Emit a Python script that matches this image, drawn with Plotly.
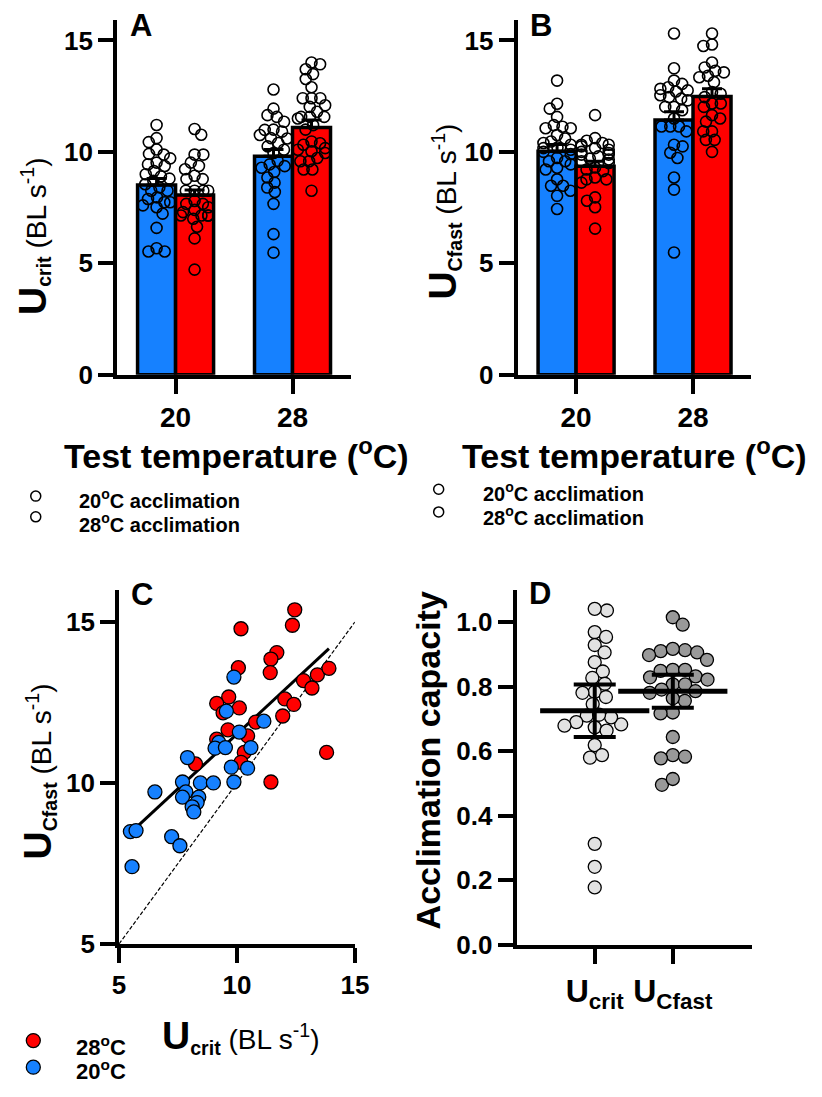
import numpy as np
import plotly.graph_objects as go

W, H = 822, 1097
FONT = "Liberation Sans, Arial, sans-serif"

# ---------------- data ----------------
test_temperature_labels = ["20", "28"]

# Panel A : Ucrit (BL s-1)
ucrit_acc20_test20 = [11.21, 10.62, 10.44, 10.11, 9.91, 9.88, 9.71, 9.52, 9.44, 9.37, 9.14, 9.0, 8.9, 8.8, 8.7,
                      8.55, 8.41, 8.26, 8.26, 7.96, 7.89, 7.74, 7.74, 7.6, 7.52, 7.23, 6.59, 5.68, 5.53, 5.53]
ucrit_acc28_test20 = [11.03, 10.77, 9.88, 9.88, 9.52, 9.37, 9.22, 8.93, 8.78, 8.78, 8.26, 8.26, 8.26, 8.26, 7.8,
                      7.67, 7.67, 7.52, 7.4, 7.3, 7.15, 7.15, 7.15, 7.15, 7.0, 6.64, 6.12, 4.72]
ucrit_acc20_test28 = [12.8, 11.94, 11.65, 11.57, 11.35, 11.0, 10.99, 10.91, 10.76, 10.62, 10.6, 10.4, 10.25, 10.1,
                      9.95, 9.6, 9.44, 9.36, 9.29, 9.1, 8.85, 8.62, 8.4, 8.2, 7.67, 6.31, 5.48]
ucrit_acc28_test28 = [14.01, 13.93, 13.71, 13.49, 13.27, 12.9, 12.41, 12.41, 12.41, 12.09, 12.02, 11.8, 11.57, 11.57,
                      11.57, 11.5, 11.2, 11.0, 10.47, 10.39, 10.32, 10.17, 10.1, 10.03, 9.95, 9.73, 9.58, 9.58,
                      9.21, 9.21, 8.26]
ucrit_mean_acc20 = [8.51, 9.81]
ucrit_mean_acc28 = [8.07, 11.09]
ucrit_sem_acc20 = [0.30, 0.30]
ucrit_sem_acc28 = [0.22, 0.34]

# Panel B : UCfast (BL s-1)
ucfast_acc20_test20 = [13.2, 12.16, 11.94, 11.57, 11.2, 11.13, 11.06, 11.06, 10.76, 10.6, 10.47, 10.4, 10.32, 10.2,
                       10.17, 10.1, 10.0, 9.9, 9.73, 9.58, 9.58, 9.44, 9.29, 9.21, 8.77, 8.48, 8.48, 8.26, 8.03, 7.44]
ucfast_acc28_test20 = [11.65, 10.62, 10.5, 10.4, 10.32, 10.32, 10.25, 10.17, 10.1, 10.0, 9.95, 9.88, 9.88, 9.8, 9.7,
                       9.66, 9.58, 9.5, 9.3, 9.21, 9.14, 8.85, 8.77, 8.77, 8.62, 7.96, 7.81, 7.52, 6.56]
ucfast_acc20_test28 = [15.31, 13.75, 13.2, 13.05, 12.9, 12.83, 12.76, 12.71, 12.54, 12.46, 12.39, 12.31, 12.02, 12.02,
                       11.87, 11.5, 11.14, 11.14, 11.14, 10.92, 10.32, 10.25, 9.96, 9.73, 8.85, 8.31, 5.49]
ucfast_acc28_test28 = [15.31, 14.82, 14.75, 14.01, 13.79, 13.64, 13.57, 13.42, 13.35, 13.13, 12.68, 12.61, 12.46,
                       12.17, 12.17, 12.02, 11.65, 11.5, 11.36, 10.92, 10.92, 10.54, 10.54, 10.0]
ucfast_mean_acc20 = [10.03, 11.43]
ucfast_mean_acc28 = [9.36, 12.49]
ucfast_sem_acc20 = [0.30, 0.37]
ucfast_sem_acc28 = [0.22, 0.34]

# Panel C : UCfast vs Ucrit
c_ucrit_28 = [12.45, 12.35, 10.17, 11.69, 11.44, 11.41, 10.06, 13.41, 13.9, 12.82, 13.18, 12.03, 12.41, 11.94,
              9.65, 9.14, 10.1, 9.41, 10.79, 9.62, 10.45, 9.14, 10.31, 10.17, 8.24, 11.44, 13.8]
c_ucfast_28 = [15.38, 14.9, 14.79, 14.05, 13.85, 13.43, 13.58, 13.36, 13.56, 13.18, 12.95, 12.61, 12.44, 12.08,
               12.67, 12.47, 12.33, 12.18, 11.89, 11.65, 11.46, 11.36, 10.95, 10.64, 10.59, 10.03, 10.95]
c_ucrit_20 = [9.87, 9.55, 11.14, 10.1, 9.23, 9.07, 9.51, 10.59, 7.9, 9.76, 10.45, 7.69, 8.45, 9.0, 9.87, 7.83,
              7.69, 8.38, 8.31, 8.1, 8.17, 6.52, 5.48, 5.72, 7.23, 7.58, 5.55]
c_ucfast_20 = [13.29, 12.23, 11.92, 11.58, 11.26, 11.08, 11.1, 11.1, 10.79, 10.49, 10.46, 10.03, 10.0, 10.0, 10.03,
               9.72, 9.56, 9.56, 9.39, 9.26, 9.1, 9.72, 8.49, 8.52, 8.33, 8.05, 7.4]
fit_slope = 0.68
fit_intercept = 4.72
identity_extent = [5, 15]

# Panel D : acclimation capacity
capacity_labels = ["U<sub>crit</sub>", "U<sub>Cfast</sub>"]
capacity_ucrit = [1.036, 1.041, 0.969, 0.954, 0.929, 0.906, 0.876, 0.847, 0.809, 0.827, 0.784, 0.781, 0.768,
                  0.746, 0.710, 0.683, 0.674, 0.705, 0.690, 0.679, 0.713, 0.664, 0.619, 0.580, 0.588, 0.313,
                  0.242, 0.178]
capacity_ucfast = [1.015, 0.992, 0.913, 0.910, 0.906, 0.898, 0.883, 0.917, 0.849, 0.852, 0.852, 0.829, 0.832,
                   0.807, 0.807, 0.822, 0.791, 0.781, 0.786, 0.756, 0.764, 0.720, 0.717, 0.644, 0.588, 0.578,
                   0.583, 0.496, 0.514]
capacity_mean = [0.725, 0.786]
capacity_ci_low = [0.644, 0.735]
capacity_ci_high = [0.807, 0.837]

# ---------------- styles ----------------
BLUE = "#1681ff"
RED = "#ff0000"
LIGHT = "#e2e2e2"
MID = "#999999"


def px(x):
    return x / W


def py(y):
    return 1 - y / H


def swarm(values, ypx, diam, maxoff):
    """Deterministic beeswarm offsets (pixels) for a list of values."""
    vals = np.asarray(values, float)
    order = np.argsort(-vals, kind="stable")
    offs = np.zeros(len(vals))
    placed = []
    for k, i in enumerate(order):
        yi = vals[i] * ypx
        iv = []
        for yj, xj in placed:
            dy = abs(yi - yj)
            if dy < diam:
                dx = np.sqrt(diam ** 2 - dy ** 2)
                iv.append((xj - dx, xj + dx))
        cands = [0.0] + [a for a, b in iv] + [b for a, b in iv]
        sgn = 1 if k % 2 else -1
        cands.sort(key=lambda c: (round(abs(c), 6), -sgn * c))
        best = 0.0
        for c in cands:
            if all(not (a + 1e-6 < c < b - 1e-6) for a, b in iv):
                best = c
                break
        best = max(-maxoff, min(maxoff, best))
        offs[i] = best
        placed.append((yi, best))
    return offs


fig = go.Figure()
cat_pos = np.arange(len(test_temperature_labels))
BAR_W = 0.325
BAR_OFF = 0.1625
PX_PER_CAT = 120.0
PX_PER_UNIT_AB = 22.6


def bar_panel(xa, ya, mean20, mean28, sem20, sem28, groups):
    for means, sems, col, sign in [(mean20, sem20, BLUE, -1), (mean28, sem28, RED, 1)]:
        fig.add_trace(go.Bar(
            x=cat_pos + sign * BAR_OFF, y=means, width=BAR_W, xaxis=xa, yaxis=ya,
            marker=dict(color=col, line=dict(color="black", width=3.5)),
            error_y=dict(type="data", symmetric=False, array=sems, arrayminus=[0] * len(sems),
                         color="black", thickness=3, width=10),
            showlegend=False, hoverinfo="skip"))
    for vals, ci, sign in groups:
        offs = swarm(vals, PX_PER_UNIT_AB, 9, 14) / PX_PER_CAT
        fig.add_trace(go.Scatter(
            x=cat_pos[ci] + sign * BAR_OFF + offs, y=vals, mode="markers", xaxis=xa, yaxis=ya,
            marker=dict(size=11, color="rgba(0,0,0,0)", line=dict(color="black", width=1.6)),
            showlegend=False, hoverinfo="skip"))


bar_panel("x", "y", ucrit_mean_acc20, ucrit_mean_acc28, ucrit_sem_acc20, ucrit_sem_acc28,
          [(ucrit_acc20_test20, 0, -1), (ucrit_acc28_test20, 0, 1),
           (ucrit_acc20_test28, 1, -1), (ucrit_acc28_test28, 1, 1)])
bar_panel("x2", "y2", ucfast_mean_acc20, ucfast_mean_acc28, ucfast_sem_acc20, ucfast_sem_acc28,
          [(ucfast_acc20_test20, 0, -1), (ucfast_acc28_test20, 0, 1),
           (ucfast_acc20_test28, 1, -1), (ucfast_acc28_test28, 1, 1)])

# Panel C
fig.add_trace(go.Scatter(x=identity_extent, y=identity_extent, mode="lines", xaxis="x3", yaxis="y3",
                         line=dict(color="black", width=1.2, dash="4px,2px"), showlegend=False,
                         hoverinfo="skip"))
all_ucrit = c_ucrit_28 + c_ucrit_20
fit_x = np.array([min(all_ucrit), max(all_ucrit)])
fig.add_trace(go.Scatter(x=fit_x, y=fit_intercept + fit_slope * fit_x, mode="lines", xaxis="x3", yaxis="y3",
                         line=dict(color="black", width=3), showlegend=False, hoverinfo="skip"))
for xs, ys, col in [(c_ucrit_28, c_ucfast_28, RED), (c_ucrit_20, c_ucfast_20, BLUE)]:
    fig.add_trace(go.Scatter(x=xs, y=ys, mode="markers", xaxis="x3", yaxis="y3",
                             marker=dict(size=14, color=col, line=dict(color="black", width=1.3)),
                             showlegend=False, hoverinfo="skip", cliponaxis=False))

# Panel D
PX_PER_CAT_D = 80.0
PX_PER_UNIT_D = 327.0
for i, (vals, col) in enumerate([(capacity_ucrit, LIGHT), (capacity_ucfast, MID)]):
    offs = swarm(vals, PX_PER_UNIT_D, 12.6, 36) / PX_PER_CAT_D
    fig.add_trace(go.Scatter(x=i + offs, y=vals, mode="markers", xaxis="x4", yaxis="y4",
                             marker=dict(size=13, color=col, line=dict(color="black", width=1.3)),
                             showlegend=False, hoverinfo="skip", cliponaxis=False))
fig.add_trace(go.Scatter(
    x=list(range(len(capacity_mean))), y=capacity_mean, mode="markers", xaxis="x4", yaxis="y4",
    marker=dict(symbol="line-ew-open", size=78, color="black", line=dict(color="black", width=5)),
    error_y=dict(type="data", symmetric=False,
                 array=[h - m for h, m in zip(capacity_ci_high, capacity_mean)],
                 arrayminus=[m - l for l, m in zip(capacity_ci_low, capacity_mean)],
                 color="black", thickness=4, width=21),
    showlegend=False, hoverinfo="skip"))

# ---------------- axes ----------------
axis_common = dict(showline=True, linewidth=4, linecolor="black", ticks="outside", ticklen=15, tickwidth=4,
                   tickcolor="black", showgrid=False, zeroline=False, fixedrange=True)
ytick_font = dict(family=FONT, size=26, color="black", weight="bold")
xtick_font = dict(family=FONT, size=28, color="black", weight="bold")

fig.update_layout(
    width=W, height=H, autosize=False, margin=dict(l=0, r=0, t=0, b=0),
    paper_bgcolor="white", plot_bgcolor="white", barmode="overlay",
    xaxis=dict(axis_common, domain=[px(113), px(353)], range=[-0.5, 1.5], anchor="y",
               tickvals=list(cat_pos), ticktext=test_temperature_labels, tickfont=xtick_font),
    yaxis=dict(axis_common, domain=[py(380), py(20)], range=[0, 15.93], anchor="x",
               tickvals=[0, 5, 10, 15], tickfont=ytick_font),
    xaxis2=dict(axis_common, domain=[px(524), px(764)], range=[-0.5, 1.5], anchor="y2",
                tickvals=list(cat_pos), ticktext=test_temperature_labels, tickfont=xtick_font),
    yaxis2=dict(axis_common, domain=[py(380), py(20)], range=[0, 15.93], anchor="x2",
                tickvals=[0, 5, 10, 15], tickfont=ytick_font),
    xaxis3=dict(axis_common, domain=[px(115), px(357)], range=[5, 15], anchor="y3",
                tickvals=[5, 10, 15], tickfont=ytick_font),
    yaxis3=dict(axis_common, domain=[py(957), py(598)], range=[5, 16], anchor="x3",
                tickvals=[5, 10, 15], tickfont=ytick_font),
    xaxis4=dict(axis_common, domain=[px(523), px(765)], range=[-1.0, 2.02], anchor="y4",
                tickvals=[0, 1], ticktext=capacity_labels,
                tickfont=dict(family=FONT, size=32, color="black", weight="bold")),
    yaxis4=dict(axis_common, domain=[py(958), py(598)], range=[0, 1.1], anchor="x4",
                tickvals=[0, 0.2, 0.4, 0.6, 0.8, 1.0], tickformat=".1f", tickfont=ytick_font),
)

# ---------------- annotations ----------------
ann = []


def text(x, y, s, size, bold=True, angle=0, xanchor="center", yanchor="middle", height=None):
    a = dict(x=px(x), y=py(y), xref="paper", yref="paper", text=s, showarrow=False,
             textangle=angle, xanchor=xanchor, yanchor=yanchor,
             font=dict(family=FONT, size=size, color="black", weight="bold" if bold else "normal"))
    if height is not None:
        a["height"] = height
    ann.append(a)


def u_title(sub):
    return ('<span style="font-size:39px;font-weight:bold">U</span>'
            '<sub style="font-size:27px;font-weight:bold">' + sub + '</sub> (BL s<sup>-1</sup>)')


for lab, x, y in [("A", 138, 26), ("B", 548, 26), ("C", 139, 603), ("D", 547, 602)]:
    text(x, y, lab, 31)

text(236, 460, "Test temperature (<sup>o</sup>C)", 34)
text(644, 460, "Test temperature (<sup>o</sup>C)", 34)
text(27, 239, u_title("crit"), 28, bold=False, angle=-90)
text(448, 215, u_title("Cfast"), 28, bold=False, angle=-90)
text(32, 782, u_title("Cfast"), 28, bold=False, angle=-90)
text(240, 1051, u_title("crit"), 28, bold=False)
text(432, 771, "Acclimation capacity", 34, angle=-90)

# legends
shapes = []


def circle(x, y, d, fill, lw):
    shapes.append(dict(type="circle", xref="paper", yref="paper", xsizemode="pixel", ysizemode="pixel",
                       xanchor=px(x), yanchor=py(y), x0=-d / 2, x1=d / 2, y0=-d / 2, y1=d / 2,
                       fillcolor=fill, line=dict(color="black", width=lw)))


circle(29.5, 503, 10, "white", 1.5)
circle(29.5, 524, 10, "white", 1.5)
text(72, 506, "20<sup>o</sup>C acclimation", 20, xanchor="left", height=22)
text(72, 530, "28<sup>o</sup>C acclimation", 20, xanchor="left", height=22)
circle(443, 496, 10, "white", 1.5)
circle(443, 519, 10, "white", 1.5)
text(486, 499, "20<sup>o</sup>C acclimation", 20, xanchor="left", height=22)
text(486, 523, "28<sup>o</sup>C acclimation", 20, xanchor="left", height=22)
circle(27, 1055, 14, RED, 1.3)
circle(27, 1082, 14, BLUE, 1.3)
text(69, 1061, "28<sup>o</sup>C", 22, xanchor="left", height=22)
text(69, 1085, "20<sup>o</sup>C", 22, xanchor="left", height=22)

fig.update_layout(annotations=ann, shapes=shapes)
fig.write_html("out.html", config={"displayModeBar": False},
               post_script="document.body.style.margin='0px';document.body.style.padding='0px';")
